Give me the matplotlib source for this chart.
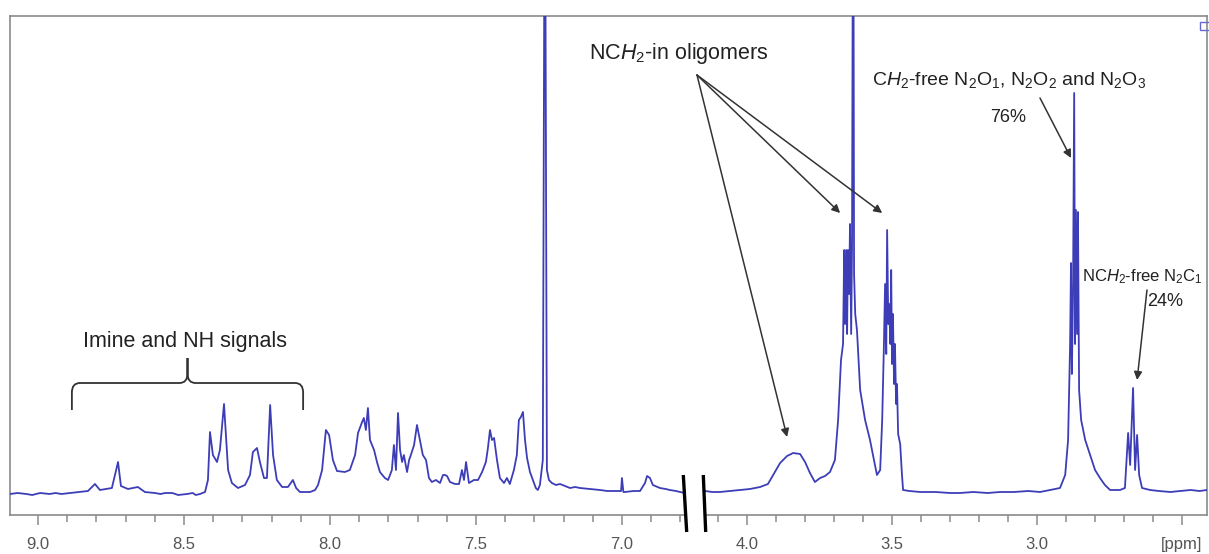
import numpy as np
import matplotlib
matplotlib.use("Agg")
import matplotlib.pyplot as plt
from matplotlib.path import Path
from matplotlib.patches import PathPatch, Rectangle
from matplotlib.lines import Line2D

plt.rcParams.update({
    "font.family": ["Liberation Sans", "DejaVu Sans"],
    "mathtext.fontset": "custom",
    "mathtext.rm": "Liberation Sans",
    "mathtext.it": "Liberation Sans:italic",
})

LINE = "#3d3db8"
GRAY = "#8a8a8a"
TXT = "#222222"

# 1H NMR trace, aromatic / imine part (ppm, intensity a.u.)
left_ppm = [9.096, 9.070, 9.040, 9.020, 8.993, 8.960, 8.940, 8.920, 8.890, 8.860, 8.829,
            8.805, 8.788, 8.747, 8.726, 8.716, 8.692, 8.658, 8.634, 8.600, 8.580, 8.565,
            8.540, 8.520, 8.490, 8.470, 8.460, 8.445, 8.428, 8.418, 8.411, 8.401, 8.387,
            8.377, 8.363, 8.349, 8.336, 8.315, 8.291, 8.274, 8.264, 8.250, 8.240, 8.226,
            8.216, 8.205, 8.195, 8.182, 8.164, 8.144, 8.127, 8.116, 8.103, 8.068, 8.051,
            8.041, 8.027, 8.014, 8.003, 7.990, 7.976, 7.949, 7.932, 7.914, 7.904, 7.890,
            7.884, 7.877, 7.870, 7.863, 7.849, 7.839, 7.829, 7.812, 7.801, 7.788, 7.781,
            7.774, 7.767, 7.760, 7.753, 7.747, 7.736, 7.729, 7.723, 7.712, 7.702, 7.692,
            7.682, 7.671, 7.661, 7.651, 7.637, 7.623, 7.613, 7.606, 7.599, 7.589, 7.572,
            7.558, 7.548, 7.541, 7.534, 7.524, 7.507, 7.493, 7.479, 7.466, 7.459, 7.452,
            7.445, 7.438, 7.428, 7.418, 7.404, 7.394, 7.384, 7.370, 7.360, 7.353, 7.346,
            7.339, 7.332, 7.325, 7.315, 7.305, 7.295, 7.288, 7.281, 7.271, 7.264, 7.257,
            7.250, 7.240, 7.226, 7.212, 7.195, 7.178, 7.160, 7.144, 7.110, 7.075, 7.050,
            7.024, 7.003, 7.000, 6.995, 6.990, 6.960, 6.938, 6.921, 6.914, 6.904, 6.894,
            6.870, 6.850, 6.836, 6.815, 6.801, 6.784]
left_int = [0, 1, 0, -1, 1, 0, 1, 0, 1, 2, 3,
            10, 4, 6, 32, 8, 5, 7, 2, 1, 0, 1,
            1, -1, 0, 1, -1, 0, 2, 14, 62, 39, 32,
            44, 90, 24, 11, 6, 9, 19, 42, 46, 32, 16,
            16, 89, 39, 14, 7, 7, 14, 6, 2, 2, 4,
            9, 24, 64, 59, 34, 23, 22, 24, 39, 61, 72,
            76, 64, 86, 54, 44, 32, 22, 16, 14, 24, 49,
            24, 81, 44, 32, 39, 22, 34, 39, 49, 69, 54,
            39, 34, 16, 12, 14, 11, 19, 19, 18, 12, 10,
            10, 24, 14, 32, 11, 14, 14, 22, 32, 46, 64,
            54, 56, 34, 16, 11, 16, 10, 24, 39, 74, 77,
            82, 54, 36, 22, 14, 6, 4, 9, 34, 700, 24,
            14, 11, 9, 10, 8, 6, 7, 6, 5, 4, 3,
            3, 3, 16, 2, 2, 3, 3, 11, 18, 16, 9,
            6, 5, 4, 3, 2, 1]

# aliphatic part
right_ppm = [4.145, 4.120, 4.093, 4.060, 4.024, 3.990, 3.955, 3.928, 3.910, 3.886, 3.862,
             3.841, 3.817, 3.800, 3.783, 3.766, 3.748, 3.731, 3.714, 3.697, 3.686, 3.676,
             3.669, 3.665, 3.662, 3.658, 3.655, 3.652, 3.648, 3.645, 3.641, 3.638, 3.634,
             3.631, 3.627, 3.621, 3.610, 3.593, 3.576, 3.559, 3.552, 3.541, 3.534, 3.528,
             3.524, 3.520, 3.517, 3.513, 3.510, 3.506, 3.503, 3.500, 3.497, 3.493, 3.490,
             3.486, 3.483, 3.479, 3.472, 3.466, 3.462, 3.440, 3.403, 3.350, 3.300, 3.266,
             3.220, 3.170, 3.128, 3.080, 3.030, 2.990, 2.955, 2.921, 2.903, 2.893, 2.886,
             2.883, 2.880, 2.876, 2.872, 2.869, 2.866, 2.862, 2.859, 2.855, 2.848, 2.834,
             2.817, 2.800, 2.783, 2.766, 2.748, 2.714, 2.697, 2.686, 2.679, 2.669, 2.662,
             2.655, 2.648, 2.638, 2.610, 2.580, 2.540, 2.507, 2.470, 2.440, 2.414]
right_int = [3, 2, 2, 3, 4, 5, 7, 10, 19, 31, 38,
             41, 40, 32, 21, 12, 16, 18, 22, 34, 74, 134,
             150, 244, 170, 244, 160, 244, 200, 270, 160, 250, 700,
             220, 180, 164, 104, 74, 54, 29, 19, 24, 74, 150,
             210, 140, 264, 170, 190, 150, 224, 130, 180, 110, 150,
             90, 110, 60, 50, 20, 4, 3, 2, 2, 1, 1,
             2, 1, 2, 2, 3, 2, 4, 6, 19, 54, 150,
             231, 120, 200, 401, 150, 284, 160, 282, 104, 74, 54,
             39, 24, 16, 9, 4, 4, 6, 61, 29, 106, 24,
             59, 19, 6, 4, 3, 2, 3, 4, 3, 4]

left_lim = (9.096, 6.784)
right_lim = (4.145, 2.414)
y_lim = (-21, 478)
left_major = [9.0, 8.5, 8.0, 7.5, 7.0]
left_minor = [9.0, 8.9, 8.8, 8.7, 8.6, 8.5, 8.4, 8.3, 8.2, 8.1, 8.0, 7.9, 7.8,
              7.7, 7.6, 7.5, 7.4, 7.3, 7.2, 7.1, 7.0, 6.9, 6.8]
right_major = [4.0, 3.5, 3.0, 2.5]
right_minor = [4.1, 4.0, 3.9, 3.8, 3.7, 3.6, 3.5, 3.4, 3.3, 3.2, 3.1, 3.0,
               2.9, 2.8, 2.7, 2.6, 2.5]
right_labels = ["4.0", "3.5", "3.0", "[ppm]"]

fig = plt.figure(figsize=(12.09, 5.54), dpi=100)

# outer frame
frame = fig.add_axes([10 / 1209, 0.0704, 1197 / 1209, 0.9007])
frame.set_xticks([]); frame.set_yticks([])
frame.patch.set_alpha(0)
for s in ["top", "left", "right"]:
    frame.spines[s].set_color(GRAY)
    frame.spines[s].set_linewidth(1.2)
frame.spines["bottom"].set_visible(False)

axl = fig.add_axes([10 / 1209, 0.0704, 675 / 1209, 0.9007])
axr = fig.add_axes([705 / 1209, 0.0704, 502 / 1209, 0.9007])

for ax, xp, yi, lim, major, minor in [
        (axl, left_ppm, left_int, left_lim, left_major, left_minor),
        (axr, right_ppm, right_int, right_lim, right_major, right_minor)]:
    ax.plot(xp, yi, color=LINE, lw=1.3)
    ax.patch.set_alpha(0)
    for s in ["top", "left", "right"]:
        ax.spines[s].set_visible(False)
    ax.spines["bottom"].set_color(GRAY)
    ax.spines["bottom"].set_linewidth(1.2)
    ax.set_yticks([])
    ax.set_xticks(major)
    ax.set_xticks(minor, minor=True)
    ax.set_xlim(*lim)   # after ticks, so the ticks don't widen the view
    ax.set_ylim(*y_lim)
    ax.tick_params(axis="x", which="major", direction="out", length=7, width=1.1,
                   color=GRAY, labelcolor="#555555", labelsize=12, pad=9)
    ax.tick_params(axis="x", which="minor", direction="out", length=5, width=1.1, color=GRAY)

axl.set_xticklabels([f"{v:.1f}" for v in left_major])
axr.set_xticklabels(right_labels)

# axis break marks
for x0, x1 in [(683.3, 686.7), (703.3, 705.7)]:
    fig.add_artist(Line2D([x0 / 1209, x1 / 1209], [(554 - 475) / 554, (554 - 532) / 554],
                          color="black", lw=2.4, solid_capstyle="butt"))

# little box in top-right corner
fig.add_artist(Rectangle((1200 / 1209, (554 - 30) / 554), 12 / 1209, 8 / 554,
                         fill=False, edgecolor="#6a6ad0", lw=1.0))


def brace(ax, x0, x1, y, h, cusp):
    """Curly bracket opening downward, x0 > x1 in ppm."""
    xm = (x0 + x1) / 2
    d = (x0 - x1) * 0.035
    r = h * 0.35
    verts = [(x0, y - h), (x0, y - r), (x0, y), (x0 - d, y),
             (xm + d, y), (xm, y), (xm, y + r), (xm, y + cusp),
             (xm, y + cusp), (xm, y + r), (xm, y), (xm - d, y),
             (x1 + d, y), (x1, y), (x1, y - r), (x1, y - h)]
    codes = [Path.MOVETO, Path.LINETO, Path.CURVE3, Path.CURVE3,
             Path.LINETO, Path.CURVE3, Path.CURVE3, Path.LINETO,
             Path.MOVETO, Path.LINETO, Path.CURVE3, Path.CURVE3,
             Path.LINETO, Path.CURVE3, Path.CURVE3, Path.LINETO]
    ax.add_patch(PathPatch(Path(verts, codes), fill=False, edgecolor="#333333", lw=1.3))


brace(axl, 8.884, 8.092, 111, 27, 25)

fs_big = 15.5
fs_small = 13
fig.text(0.1530, 0.3827, "Imine and NH signals", ha="center", va="center",
         fontsize=fs_big, color=TXT)
fig.text(0.5616, 0.9043, r"NC$H_2$-in oligomers", ha="center", va="center",
         fontsize=fs_big, color=TXT)
fig.text(0.8346, 0.8556, r"C$H_2$-free N$_2$O$_1$, N$_2$O$_2$ and N$_2$O$_3$",
         ha="center", va="center", fontsize=14, color=TXT)
fig.text(0.8337, 0.7888, "76%", ha="center", va="center", fontsize=fs_small, color=TXT)
fig.text(0.8950, 0.5000, r"NC$H_2$-free N$_2$C$_1$", ha="left", va="center",
         fontsize=12, color=TXT)
fig.text(0.9636, 0.4560, "24%", ha="center", va="center", fontsize=fs_small, color=TXT)

arrow = dict(arrowstyle="-|>", color="#333333", lw=1.1, mutation_scale=12,
             shrinkA=0, shrinkB=0)
for tip in [(3.679, 281), (3.534, 281), (3.862, 57)]:
    axr.annotate("", xy=tip, xycoords="data", xytext=(0.5765, 0.8646),
                 textcoords="figure fraction", arrowprops=arrow, annotation_clip=False)
axr.annotate("", xy=(2.883, 336), xytext=(0.8602, 0.8231),
             textcoords="figure fraction", arrowprops=arrow)
axr.annotate("", xy=(2.655, 114), xytext=(0.9487, 0.4765),
             textcoords="figure fraction", arrowprops=arrow)

fig.savefig("out.png", dpi=100)
